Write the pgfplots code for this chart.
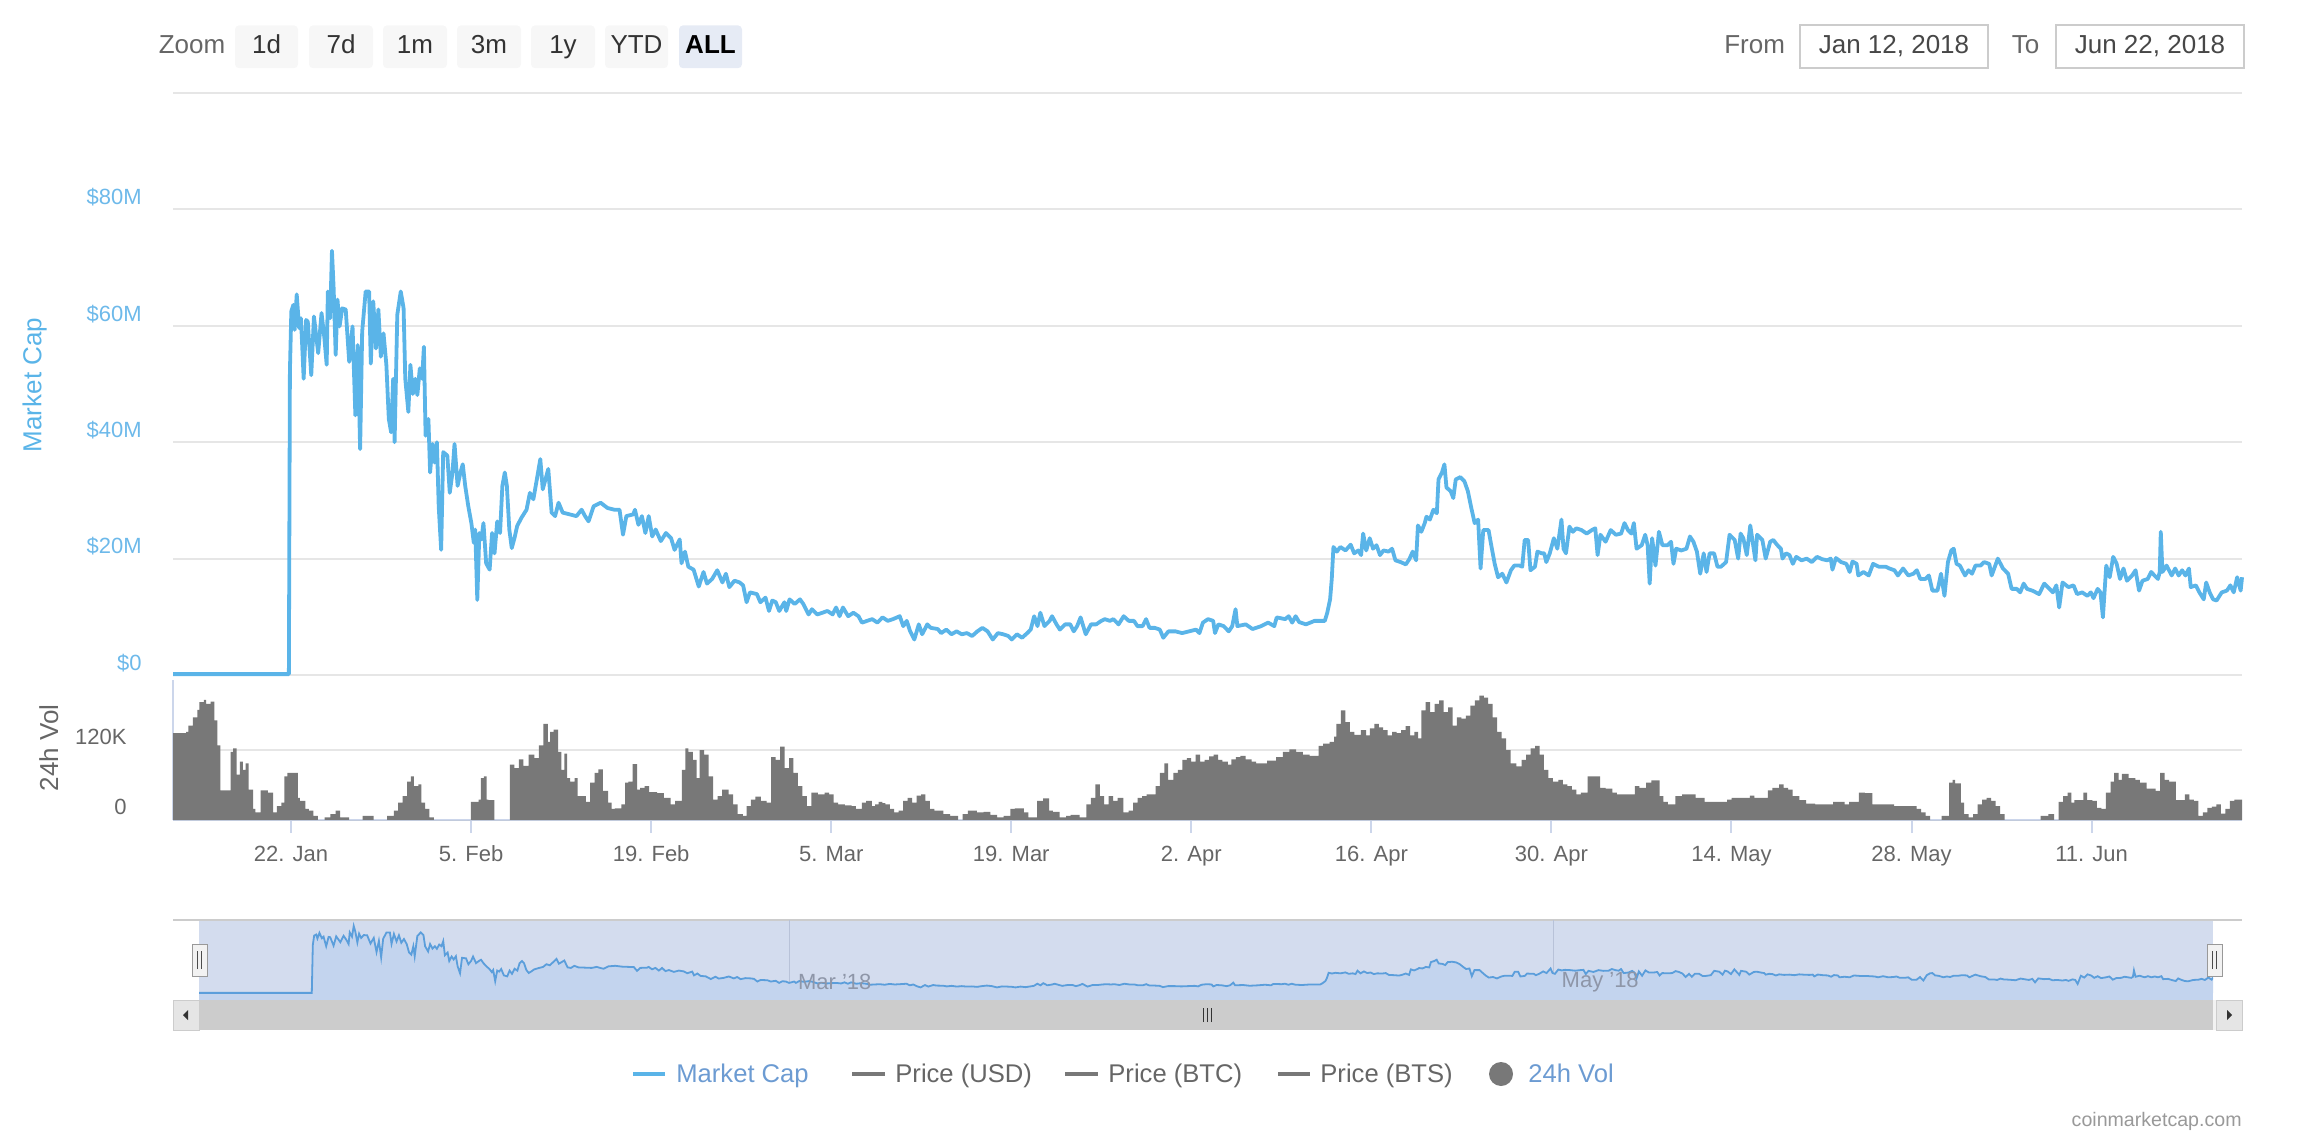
\documentclass[border=0pt]{standalone}
\usepackage{pgfplots}
\pgfplotsset{compat=1.18}
\usepackage{pgfplotstable}
\usepackage{fontspec}
\setmainfont{Liberation Sans}
\newcommand\fs[1]{\fontsize{#1}{#1}\selectfont}
\definecolor{mcblue}{HTML}{5AB4E8}
\definecolor{mclabel}{HTML}{6DB9EA}
\definecolor{legblue}{HTML}{6C9BD2}
\definecolor{gridc}{HTML}{E6E6E6}
\definecolor{axisc}{HTML}{CCD6EB}
\definecolor{volc}{HTML}{787878}
\definecolor{txtg}{HTML}{666666}
\definecolor{maskc}{HTML}{D3DCEE}
\definecolor{navfill}{HTML}{C3D4EE}
\definecolor{navline}{HTML}{5B9EDB}
\definecolor{navgrid}{HTML}{B8C2D8}
\definecolor{navtxt}{HTML}{8E96A8}
\definecolor{btnbg}{HTML}{F7F7F7}
\definecolor{btnsel}{HTML}{E6EBF5}

\pgfplotstableread{
x y
0.82 0.15
9.83 0.15
9.91 52.1
10.02 62.5
10.18 63.6
10.28 59.3
10.44 65.4
10.63 59.6
10.77 61.3
10.98 50.9
11.17 61.0
11.30 60.7
11.57 51.5
11.78 61.6
12.11 55.3
12.37 62.2
12.59 57.9
12.77 53.3
12.86 65.9
13.04 61.3
13.18 72.9
13.31 66.5
13.47 55.0
13.61 64.5
13.77 59.9
13.98 63.0
14.25 62.8
14.52 53.8
14.78 59.9
15.00 44.6
15.19 56.7
15.37 38.8
15.53 59.0
15.80 65.9
16.07 65.9
16.20 53.5
16.39 64.2
16.60 56.1
16.79 62.8
16.98 54.7
17.19 58.7
17.41 53.3
17.60 44.0
17.78 41.7
17.94 50.9
18.05 40.0
18.26 61.9
18.53 65.9
18.75 63.0
18.88 50.9
19.12 45.2
19.28 53.3
19.47 48.3
19.66 50.9
19.82 48.1
20.01 52.7
20.19 50.9
20.33 56.4
20.46 41.1
20.68 44.0
20.81 34.8
21.00 39.7
21.16 36.5
21.34 40.0
21.48 29.0
21.67 21.5
21.83 38.3
22.15 37.7
22.34 31.3
22.55 34.8
22.71 39.7
22.95 32.5
23.17 34.8
23.35 36.2
23.54 32.5
23.78 29.0
24.02 26.1
24.21 22.7
24.32 25.0
24.48 12.9
24.64 24.4
24.80 23.3
24.96 26.1
25.17 19.2
25.44 18.1
25.63 24.4
25.82 20.9
26.03 26.4
26.25 24.4
26.43 32.5
26.62 34.8
26.78 32.5
26.97 25.0
27.16 21.8
27.37 23.5
27.58 25.6
27.91 27.0
28.31 28.4
28.57 31.3
28.84 30.2
29.11 33.6
29.38 37.1
29.57 31.9
29.78 33.6
30.00 35.4
30.26 27.9
30.53 27.3
30.80 29.6
31.12 27.9
31.66 27.6
32.19 27.3
32.59 28.4
32.86 27.3
33.13 26.4
33.53 29.0
34.07 29.6
34.60 28.7
35.14 28.4
35.54 28.4
35.81 24.1
36.07 27.3
36.61 27.6
36.74 28.4
37.01 25.8
37.28 27.3
37.55 24.4
37.81 27.3
38.08 23.8
38.35 25.0
38.75 23.0
39.15 24.4
39.55 23.5
39.82 21.5
40.22 23.3
40.36 19.2
40.63 21.2
40.89 18.6
41.30 18.1
41.70 15.2
42.07 17.7
42.34 15.7
42.74 16.5
43.14 18.0
43.54 15.9
43.81 17.4
44.08 15.1
44.48 16.2
44.88 15.9
45.15 15.4
45.42 12.5
45.68 14.2
46.22 13.9
46.49 12.5
46.89 13.3
47.16 11.0
47.42 12.8
47.69 12.5
47.96 11.0
48.36 12.5
48.50 11.0
48.76 13.0
49.16 12.2
49.57 13.0
49.83 12.2
50.24 10.4
50.50 11.3
50.91 10.4
51.31 10.7
51.71 11.0
52.11 10.4
52.38 11.6
52.65 10.1
52.91 11.6
53.32 10.1
53.72 10.7
54.12 10.1
54.39 9.0
54.79 9.3
55.19 9.6
55.59 9.0
55.99 9.9
56.40 9.3
56.80 9.6
57.33 10.1
57.60 8.4
57.87 9.3
58.14 7.5
58.46 6.1
58.81 8.7
59.07 7.0
59.47 8.7
59.74 8.1
60.28 7.9
60.55 7.2
60.95 7.8
61.35 7.0
61.75 7.5
62.15 7.0
62.55 7.2
62.96 6.7
63.36 7.5
63.76 8.1
64.16 7.5
64.56 6.1
64.96 7.2
65.37 7.0
65.77 6.7
66.04 6.1
66.44 7.0
66.84 6.4
67.24 7.2
67.51 7.8
67.78 10.1
68.04 8.4
68.26 10.7
68.58 8.4
68.98 9.3
69.17 10.1
69.52 8.7
69.78 7.8
70.19 8.7
70.59 8.7
70.86 7.5
71.12 8.4
71.39 9.9
71.79 7.0
72.20 8.7
72.60 8.7
73.00 9.3
73.27 9.6
73.67 9.3
73.94 9.6
74.34 8.7
74.74 10.1
75.14 9.3
75.54 9.3
75.81 8.4
76.21 8.4
76.48 9.6
76.75 8.1
77.15 8.1
77.55 7.8
77.82 6.4
78.22 7.5
78.76 7.5
79.29 7.2
79.83 7.5
80.36 7.8
80.63 7.2
80.90 9.0
81.30 9.6
81.70 9.3
81.84 7.2
82.10 8.7
82.51 8.4
82.91 7.5
83.18 8.4
83.44 11.3
83.58 8.4
84.23 8.7
84.76 7.9
85.43 8.4
85.97 9.0
86.45 8.4
86.64 9.9
87.30 9.6
87.57 10.1
87.84 9.0
88.11 10.1
88.38 9.1
88.91 8.7
89.58 9.3
89.98 9.3
90.38 9.3
90.57 10.7
90.79 13.0
90.92 16.5
91.05 22.0
91.32 21.2
91.59 22.0
91.99 21.4
92.39 22.4
92.66 20.9
92.98 21.4
93.20 20.6
93.36 24.3
93.60 21.4
93.87 23.5
94.13 21.7
94.40 22.3
94.67 20.6
94.94 21.4
95.34 21.2
95.61 21.7
95.87 19.7
96.28 19.4
96.68 19.0
96.95 19.9
97.21 21.2
97.48 19.7
97.62 25.7
97.88 24.6
98.15 26.1
98.28 27.2
98.55 26.7
98.82 28.4
99.09 27.8
99.22 33.6
99.49 34.8
99.68 36.2
99.84 32.2
100.16 31.6
100.37 30.4
100.56 33.6
100.91 34.0
101.23 33.3
101.50 31.6
101.77 28.7
102.03 26.1
102.30 26.7
102.49 18.3
102.70 24.9
103.11 24.9
103.32 22.3
103.59 19.1
103.85 16.8
104.18 17.4
104.50 15.9
104.85 18.0
105.11 18.8
105.52 18.8
105.73 18.6
105.92 23.2
106.19 23.2
106.37 18.0
106.72 18.6
106.91 21.2
107.26 20.9
107.44 20.9
107.60 19.4
107.87 20.9
108.19 23.5
108.46 21.7
108.78 26.7
108.94 21.7
109.13 20.9
109.40 25.5
109.67 24.6
109.93 25.2
110.34 24.9
110.74 24.3
111.14 24.9
111.41 25.2
111.59 20.6
111.81 24.1
112.21 22.9
112.61 24.9
113.01 24.1
113.42 24.3
113.68 26.1
113.95 24.9
114.22 24.3
114.41 26.1
114.62 21.7
115.02 22.3
115.29 24.1
115.48 22.3
115.64 15.7
115.83 23.5
116.09 18.8
116.36 24.6
116.63 22.3
117.03 22.3
117.30 22.9
117.49 19.1
117.70 21.7
118.10 21.4
118.50 21.7
118.77 23.8
119.04 22.9
119.31 21.2
119.57 17.4
119.84 20.9
120.06 17.7
120.30 20.9
120.65 20.9
120.91 18.6
121.18 18.6
121.58 19.4
121.85 24.1
122.25 23.2
122.52 20.0
122.71 24.3
122.92 23.5
123.19 20.6
123.46 25.7
123.86 19.7
123.99 24.1
124.40 23.2
124.66 20.0
125.01 22.9
125.25 23.2
125.57 22.3
125.84 21.7
125.97 20.0
126.24 20.9
126.51 20.6
126.77 19.1
127.04 20.3
127.44 19.7
127.85 20.0
128.25 19.4
128.65 20.3
129.05 19.9
129.45 19.7
129.72 20.0
129.85 18.1
130.12 20.1
130.52 19.4
130.93 19.1
131.19 17.7
131.41 19.5
131.73 19.1
131.86 17.1
132.26 17.7
132.67 17.1
133.01 19.1
133.47 18.6
134.00 18.6
134.27 18.3
134.67 18.0
134.94 17.1
135.34 18.3
135.75 17.1
136.15 17.4
136.41 18.0
136.68 16.5
137.08 16.5
137.35 17.1
137.62 14.5
138.02 14.5
138.29 17.4
138.56 13.6
138.83 19.4
139.09 21.4
139.28 21.7
139.50 19.1
139.76 18.8
140.16 17.1
140.43 18.0
140.70 17.4
140.97 18.8
141.37 18.8
141.64 19.4
142.04 19.1
142.23 17.1
142.71 20.0
143.11 18.3
143.51 17.4
143.78 14.8
144.18 14.8
144.45 14.2
144.72 15.7
144.98 14.8
145.39 14.5
145.92 13.9
146.32 15.7
146.73 14.8
146.99 14.2
147.26 15.4
147.48 11.6
147.74 15.9
148.20 15.1
148.60 15.4
148.87 13.9
149.27 14.2
149.67 13.6
149.94 14.2
150.15 13.2
150.47 14.8
150.69 14.2
150.88 9.9
151.14 18.8
151.41 16.8
151.68 20.3
151.95 19.1
152.21 16.5
152.48 18.3
152.75 16.2
153.15 17.1
153.42 18.0
153.69 14.5
153.96 16.2
154.36 16.5
154.63 17.7
154.89 17.1
155.16 16.5
155.30 17.7
155.38 24.6
155.51 17.7
155.83 18.8
156.23 17.1
156.50 18.3
156.77 17.1
157.04 18.0
157.30 17.1
157.57 18.3
157.71 15.1
158.11 15.4
158.38 14.2
158.72 13.0
158.91 15.9
159.18 14.2
159.45 13.0
159.72 12.8
160.12 14.2
160.52 14.5
160.79 15.4
161.05 14.2
161.32 16.8
161.59 14.5
161.70 16.8
}\mcdata

\pgfplotstableread{
x y
0.82 149
1.84 151
2.01 162
2.36 176
2.71 189
2.88 202
3.23 206
3.40 199
3.75 203
4.03 171
4.27 128
4.51 51
5.31 117
5.49 123
5.76 78
6.01 100
6.25 86
6.46 97
6.70 52
7.05 19
7.22 13
7.64 51
8.19 47
8.61 13
8.89 24
9.24 30
9.48 75
9.72 81
10.52 38
10.69 33
11.11 19
11.39 16
11.74 7
12.08 0
12.60 4.5
13.06 10
13.47 16
13.82 4.5
14.51 0
15.56 7
16.42 0
17.47 7
17.99 16
18.33 30
18.68 41
19.03 66
19.31 75
19.55 58
19.90 61
20.14 30
20.42 19
20.76 4.5
21.11 0
23.99 31
24.58 35
24.76 72
25.00 75
25.21 35
25.35 34
25.80 0
27.01 95
27.36 89
27.71 104
28.06 93
28.47 112
28.92 106
29.27 128
29.62 165
29.97 134
30.14 151
30.42 155
30.76 117
31.01 86
31.25 114
31.46 72
31.70 66
32.05 72
32.29 41
32.92 31
33.26 64
33.61 81
33.89 87
34.24 50
34.65 30
34.93 19
35.17 20
35.69 27
35.97 64
36.22 66
36.56 96
36.91 52
37.15 55
37.50 58
37.85 48
38.47 46
38.99 38
39.51 27
39.86 33
40.38 86
40.66 123
40.90 117
41.25 103
41.53 72
41.77 120
42.12 112
42.47 75
42.81 35
43.16 41
43.51 52
44.03 44
44.38 27
44.72 10
45.14 7
45.42 24
45.76 35
46.11 40
46.53 33
46.98 30
47.33 108
47.67 103
48.02 126
48.37 89
48.72 106
49.06 81
49.41 58
49.76 41
50.10 24
50.45 47
50.97 44
51.49 47
51.84 44
52.19 30
52.53 27
53.06 25
53.58 24
53.92 19
54.38 30
54.72 33
55.17 24
55.41 27
55.69 31
55.97 29
56.21 27
56.56 19
56.90 13
57.25 16
57.60 33
57.94 38
58.29 30
58.64 42
58.99 44
59.33 33
59.68 19
60.03 16
60.72 10
61.24 7
61.87 0
62.22 10
62.63 16
63.33 13
63.85 14
64.37 9
64.89 4.5
65.41 7
65.93 19
66.28 20
66.97 13
67.32 4.5
68.01 33
68.47 37
68.95 16
69.23 14
69.75 4.5
70.27 7
70.62 9
71.31 4.5
71.83 27
72.18 38
72.53 61
72.88 41
73.22 27
73.57 41
73.92 33
74.26 38
74.72 13
75.13 16
75.48 30
75.83 38
76.17 41
76.52 44
77.22 58
77.56 81
77.91 97
78.19 69
78.60 81
78.95 86
79.30 103
79.65 106
79.99 100
80.34 112
80.69 100
81.03 103
81.38 109
81.73 112
82.08 103
82.42 100
82.84 95
83.12 104
83.47 108
83.81 110
84.23 104
84.68 100
85.03 97
85.90 102
86.59 108
87.11 117
87.63 121
88.15 117
88.67 112
89.19 110
89.89 127
90.24 131
90.76 134
91.10 143
91.28 165
91.63 188
91.97 168
92.32 151
92.67 146
93.19 154
93.60 145
93.88 157
94.23 165
94.58 159
94.92 154
95.27 145
95.62 151
95.97 149
96.31 154
96.66 161
97.01 145
97.35 151
97.63 140
97.88 188
98.22 202
98.57 185
98.92 199
99.26 205
99.61 185
99.96 193
100.31 162
100.65 176
101.00 174
101.35 179
101.69 196
102.04 205
102.39 213
102.74 210
103.08 199
103.43 176
103.78 151
104.13 140
104.47 120
104.82 97
105.27 92
105.69 103
106.03 112
106.38 123
106.73 127
107.08 112
107.42 86
107.77 72
108.12 66
108.53 69
108.88 61
109.23 58
109.58 52
109.93 44
110.28 47
110.81 75
111.79 55
112.21 54
112.73 47
113.08 44
114.49 58
114.84 55
115.36 64
115.78 68
116.42 41
116.70 31
117.05 27
117.64 41
118.17 44
119.22 38
119.92 31
121.67 35
122.02 38
123.43 42
123.78 38
124.83 51
125.18 55
125.71 61
126.06 55
126.41 52
126.76 41
127.28 34
127.81 28
128.51 27
129.91 31
130.79 27
131.14 31
131.91 47
132.37 46
132.96 27
134.65 24
136.40 19
136.75 13
137.10 7
137.45 0
138.33 7
138.92 64
139.20 69
139.38 63
139.84 30
140.08 10
140.43 4.5
140.78 10
141.13 27
141.48 35
141.83 38
142.18 33
142.53 24
142.88 10
143.24 0
146.04 7
146.64 10
147.09 0
147.44 31
147.79 41
148.14 47
148.42 30
148.67 34
149.37 47
149.65 34
150.07 33
150.42 21
150.77 19
151.12 47
151.47 66
151.75 81
152.10 69
152.35 79
152.87 72
153.40 69
153.75 64
154.28 54
154.98 50
155.33 81
155.68 69
156.03 66
156.56 34
157.26 44
157.61 35
157.96 33
158.31 7
158.66 13
159.01 21
159.36 23
159.71 27
160.06 11
160.41 19
160.76 33
161.11 35
161.70 35
}\voldata

\begin{document}
\begin{tikzpicture}
\path[use as bounding box] (0pt,0pt) rectangle (1158pt,565.5pt);

% ---------- top controls ----------
\node[anchor=base, font=\fs{13}, text=txtg, inner sep=0pt] at (96pt,538.9pt) {Zoom};
\foreach \a/\b/\t in {117.5/149/1d,154.5/186.5/7d,191.5/223.5/1m,228.5/260.5/3m,265.5/297.5/1y,302.5/334/YTD}{
  \fill[btnbg, rounded corners=2pt] (\a pt,531.4pt) rectangle (\b pt,552.8pt);
  \node[anchor=base, font=\fs{13}, text=black!80, inner sep=0pt] at ({(\a+\b)/2*1pt},538.9pt) {\t};
}
\fill[btnsel, rounded corners=2pt] (339.5pt,531.4pt) rectangle (371pt,552.8pt);
\node[anchor=base, font=\fs{13}\bfseries, text=black, inner sep=0pt] at (355.25pt,538.9pt) {ALL};

\node[anchor=base, font=\fs{13}, text=txtg, inner sep=0pt] at (877.3pt,538.9pt) {From};
\draw[black!20, line width=1pt, fill=white] (900pt,531.4pt) rectangle (994pt,552.8pt);
\node[anchor=base, font=\fs{13}, text=black!72, inner sep=0pt] at (947pt,538.9pt) {Jan 12, 2018};
\node[anchor=base, font=\fs{13}, text=txtg, inner sep=0pt] at (1012.8pt,538.9pt) {To};
\draw[black!20, line width=1pt, fill=white] (1028pt,531.4pt) rectangle (1122pt,552.8pt);
\node[anchor=base, font=\fs{13}, text=black!72, inner sep=0pt] at (1075pt,538.9pt) {Jun 22, 2018};

% ---------- main panel ----------
\begin{axis}[at={(86.5pt,228pt)}, anchor=south west, scale only axis,
  width=1034.5pt, height=291pt, xmin=0.82, xmax=161.7, ymin=0, ymax=100,
  clip=false, axis line style={draw=none}, tick style={draw=none},
  xtick=\empty, ytick={0,20,40,60,80,100},
  yticklabels={\$0,\$20M,\$40M,\$60M,\$80M,{}},
  ymajorgrids, grid style={gridc, line width=1pt},
  yticklabel style={font=\fs{11}, text=mclabel, anchor=east, inner sep=0pt, xshift=-15.5pt, yshift=6pt}]
\addplot[mcblue, line width=1.9pt, line join=round] table[x=x,y=y] {\mcdata};
\end{axis}
\node[rotate=90, font=\fs{13}, text=mcblue, inner sep=0pt] at (17.3pt,373pt) {Market Cap};

% ---------- volume panel ----------
\begin{axis}[at={(86.5pt,155.5pt)}, anchor=south west, scale only axis,
  width=1034.5pt, height=70pt, xmin=0.82, xmax=161.7, ymin=0, ymax=240,
  axis x line*=bottom, axis y line*=left,
  axis line style={-, axisc, line width=1pt},
  ytick={0,120}, yticklabels={0,120K}, ytick style={draw=none},
  ymajorgrids, grid style={gridc, line width=1pt},
  yticklabel style={font=\fs{11}, text=txtg, anchor=east, inner sep=0pt, xshift=-16.5pt, yshift=6.5pt},
  xtick={10,24,38,52,66,80,94,108,122,136,150},
  xticklabels={22. Jan,5. Feb,19. Feb,5. Mar,19. Mar,2. Apr,16. Apr,30. Apr,14. May,28. May,11. Jun},
  tick align=outside, major tick length=6.5pt,
  xtick style={axisc, line width=1pt},
  xticklabel style={font=\fs{11}, text=txtg, anchor=base, inner sep=0pt, yshift=-14.4pt}]
\addplot[const plot, fill=volc, draw=none] table[x=x,y=y] {\voldata} \closedcycle;
\end{axis}
\node[rotate=90, font=\fs{13}, text=txtg, inner sep=0pt] at (24.4pt,191.5pt) {24h Vol};

% ---------- navigator ----------
\fill[maskc] (99.5pt,65.5pt) rectangle (1106.5pt,105.5pt);
\draw[black!20, line width=1.2pt] (86.5pt,105.5pt) -- (1121pt,105.5pt);
\begin{axis}[at={(99.5pt,65.5pt)}, anchor=south west, scale only axis,
  width=1007pt, height=40pt, xmin=0.82, xmax=161.7, ymin=-7.6, ymax=79.4,
  axis line style={draw=none}, tick style={draw=none},
  xtick={48,109}, xticklabels={}, ytick=\empty,
  xmajorgrids, grid style={navgrid, line width=0.6pt}]
\addplot[navfill, fill=navfill, draw=none] table[x=x,y=y] {\mcdata} \closedcycle;
\addplot[navfill, fill=navfill, draw=none] coordinates {(0.82,-7.6) (161.7,-7.6) (161.7,0) (0.82,0)} -- cycle;
\addplot[navline, line width=0.9pt] table[x=x,y=y] {\mcdata};
\node[anchor=west, font=\fs{11}, text=navtxt, inner sep=0pt, xshift=4pt] at (axis cs:48,12) {Mar '18};
\node[anchor=west, font=\fs{11}, text=navtxt, inner sep=0pt, xshift=4pt] at (axis cs:109,12) {May '18};
\end{axis}
% handles
\foreach \c in {99.75,1107.25}{
  \draw[black!40, line width=0.5pt, fill=black!5] ({(\c-3.75)*1pt},77.5pt) rectangle ({(\c+3.75)*1pt},93.5pt);
  \draw[black!70, line width=0.5pt] ({(\c-1.2)*1pt},81pt) -- ({(\c-1.2)*1pt},90pt);
  \draw[black!70, line width=0.5pt] ({(\c+1.2)*1pt},81pt) -- ({(\c+1.2)*1pt},90pt);
}
% scrollbar
\fill[black!5] (86.5pt,50.5pt) rectangle (1121pt,65.5pt);
\fill[black!20] (99.5pt,50.5pt) rectangle (1106.5pt,65.5pt);
\draw[black!20, line width=0.5pt, fill=black!10] (86.5pt,50.5pt) rectangle (99.5pt,65.5pt);
\draw[black!20, line width=0.5pt, fill=black!10] (1108pt,50.5pt) rectangle (1121pt,65.5pt);
\fill[black!80] (91.5pt,58pt) -- (94pt,60.5pt) -- (94pt,55.5pt) -- cycle;
\fill[black!80] (1116pt,58pt) -- (1113.5pt,60.5pt) -- (1113.5pt,55.5pt) -- cycle;
\foreach \g in {601.5,603.5,605.5}{\draw[black!80, line width=0.5pt] (\g pt,54.5pt) -- (\g pt,61.5pt);}

% ---------- legend ----------
\draw[mcblue, line width=2pt] (316.5pt,28.5pt) -- (332.5pt,28.5pt);
\node[anchor=base west, font=\fs{12.8}, text=legblue, inner sep=0pt] at (338pt,24.5pt) {Market Cap};
\draw[black!53, line width=2pt] (426pt,28.5pt) -- (442.5pt,28.5pt);
\node[anchor=base west, font=\fs{12.8}, text=txtg, inner sep=0pt] at (447.5pt,24.5pt) {Price (USD)};
\draw[black!53, line width=2pt] (532.5pt,28.5pt) -- (549pt,28.5pt);
\node[anchor=base west, font=\fs{12.8}, text=txtg, inner sep=0pt] at (554pt,24.5pt) {Price (BTC)};
\draw[black!53, line width=2pt] (639pt,28.5pt) -- (655pt,28.5pt);
\node[anchor=base west, font=\fs{12.8}, text=txtg, inner sep=0pt] at (660pt,24.5pt) {Price (BTS)};
\fill[black!53] (750.5pt,28.5pt) circle (6pt);
\node[anchor=base west, font=\fs{12.8}, text=legblue, inner sep=0pt] at (764pt,24.5pt) {24h Vol};

\node[anchor=base east, font=\fs{9.8}, text=black!40, inner sep=0pt] at (1121pt,2.5pt) {coinmarketcap.com};
\end{tikzpicture}
\end{document}
